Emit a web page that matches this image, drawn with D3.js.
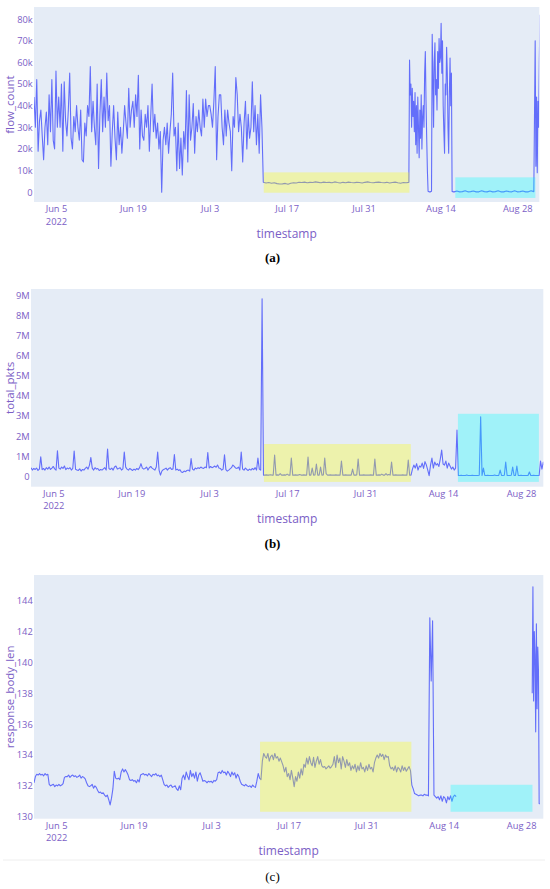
<!DOCTYPE html>
<html><head><meta charset="utf-8">
<script src="https://cdn.jsdelivr.net/npm/d3@7"></script>
<style>body{margin:0;background:#fff}svg{display:block}</style>
</head><body>
<script>
// ---------------- DATA ----------------
const xDomain = ["2022-06-01T00:00:00Z", "2022-09-01T00:00:00Z"];
const xTickDates = ["2022-06-05", "2022-06-19", "2022-07-03", "2022-07-17", "2022-07-31", "2022-08-14", "2022-08-28"];
const xTickLabels = ["Jun 5", "Jun 19", "Jul 3", "Jul 17", "Jul 31", "Aug 14", "Aug 28"];

// (a) flow_count, thousands
const flowTicks = [0, 10, 20, 30, 40, 50, 60, 70, 80];
const flowTickLabels = ["0", "10k", "20k", "30k", "40k", "50k", "60k", "70k", "80k"];
const flowJunJul = [ // from Jun 1 00:00, every 6 h
44,30,52,19, 33,38,26,15, 30,37,22,45, 28,52,24,20, 56,30,44,30, 50,19,51,33, 26,38,55,25, 20,35,28,40,
30,24,38,15, 14,32,26,40, 35,58,28,42, 30,22,50,11, 36,52,28,44, 30,55,33,40, 12,28,40,25, 15,37,22,30,
18,28,40,32, 25,48,30,38, 42,30,45,35, 54,20,38,26, 24,36,30,40, 19,35,50,28, 36,25,32,20, 28,0,24,30,
22,32,18,28, 36,55,26,30, 10,32,11,25, 8,28,20,47, 14,45,24,30, 41,18,35,28, 38,30,26,43, 30,43,35,40,
40,36,30,42, 58,15,35,45, 45,30,22,38, 26,38,32,28, 10,35,30,53, 45,28,36,30, 14,32,42,20, 36,25,30,51,
28,40,22,36, 18,45,30];
const flowFlat = [ // from Jul 12 18:00, every 12 h
4.6,4.3,4.5,4.2,4.4,4.0,3.8,3.9,4.1,3.7,4.2,4.4,4.3,4.6,4.5,4.7,4.4,4.6,4.5,4.8,4.6,4.4,4.7,4.5,4.6,4.4,4.8,
4.5,4.3,4.6,4.4,4.7,4.5,4.4,4.6,4.5,4.3,4.6,4.8,4.5,4.4,4.6,4.7,4.5,4.4,4.6,4.3,4.5,4.7,4.4,4.2,4.5,4.4,4.6];
const flowBurst = [ // from Aug 8 09:00, every 3 h
61,45,50,30,48,35,42,28,46,22,40,18,44,30,16,38,25,45,20,35,40,30,55,65,42,25,10,
0.5,0.3,0.2,0.2,0.3,0.5,
73,55,30,60,69,45,52,38,65,48,71,60,62,78,55,70,40,28,18,50,45,67,55,30,18,45,62,40,55,0.4,0.3,0.2];
const flowZero = [ // from Aug 16 12:00, every 12 h
0.2,0.6,0.2,0.3,0.7,0.2,0.3,0.6,0.2,0.2,0.7,0.3,0.2,0.6,0.2,0.3,0.7,0.2,0.2,0.6,0.3,0.2,0.7,0.2,0.3,0.6,0.2,0.2,0.7,0.3];
const flowEnd = [70,12,44,9,42,30,60,82]; // from Aug 31 06:00, every 3 h

// (b) total_pkts, millions
const pktsTicks = [0, 1, 2, 3, 4, 5, 6, 7, 8, 9];
const pktsTickLabels = ["0", "1M", "2M", "3M", "4M", "5M", "6M", "7M", "8M", "9M"];
const pktsJunJul = [ // from Jun 1 00:00, every 6 h
0.42,0.30,0.38,0.33, 0.40,0.28,0.35,0.96, 0.32,0.38,0.30,0.42, 0.35,0.45,0.33,0.40, 0.48,0.36,0.30,1.26,
0.40,0.35,0.45,0.38, 0.50,0.32,0.40,0.36, 0.42,0.30,0.38,1.25, 0.34,0.30,0.28,0.36, 0.25,0.33,0.30,0.38,
0.45,0.35,0.55,0.93, 0.40,0.30,0.42,0.35, 0.38,0.28,0.33,0.30, 0.36,0.42,0.30,1.35, 0.38,0.33,0.40,0.30,
0.45,0.50,0.35,0.38, 0.42,0.30,0.36,1.20, 0.45,0.35,0.30,0.38, 0.33,0.28,0.35,0.30, 0.38,0.32,0.42,0.62,
0.40,0.35,0.38,0.45, 0.30,0.42,0.48,0.40, 0.35,0.30,0.45,1.20, 0.30,0.05,0.25,0.32, 0.35,0.40,0.30,0.38,
0.42,0.33,0.36,1.08, 0.30,0.35,0.28,0.32, 0.20,0.18,0.25,0.22, 0.28,0.30,0.25,0.87, 0.35,0.30,0.40,0.36,
0.42,0.38,0.45,0.40, 0.38,0.45,0.42,1.18, 0.40,0.48,0.42,0.45, 0.50,0.44,0.55,0.40, 0.38,0.30,0.35,1.06,
0.32,0.25,0.30,0.36, 0.42,0.55,0.48,0.40, 0.38,0.45,0.30,1.20, 0.35,0.30,0.40,0.33, 0.28,0.35,0.30,0.38,
0.32,0.42,0.30,0.90, 0.35,0.30,8.85];
const pktsFlat = [ // from Jul 12 18:00, every 6 h
0.05,0.05,0.06,0.05,0.05,0.07,0.05,0.05, 1.05,
0.05,0.06,0.05,0.12,0.05,0.05,0.06,0.05,0.10,0.05,0.05, 0.90,
0.05,0.05,0.06,0.05,0.05,0.08,0.05,0.05,0.06,0.05,0.05, 0.95,
0.05,0.05,0.40,0.05,0.06,0.60,0.05,0.05,0.45,0.05,0.06, 0.90,
0.12,0.05,0.05,0.06,0.05,0.05,0.05,0.06,0.05,0.05,0.05, 0.75,
0.05,0.05,0.06,0.05,0.05,0.05,0.05,0.35,0.05,0.05,0.06, 0.85,
0.05,0.05,0.05,0.06,0.05,0.05,0.05,0.05,0.06,0.05,0.05, 0.85,
0.05,0.05,0.06,0.05,0.10,0.05,0.05,0.12,0.05,0.08,0.05, 0.70,
0.05,0.05,0.06,0.05,0.05,0.05,0.05,0.06,0.05,0.05,0.05, 0.80,
0.05,0.05];
const pktsMid = [ // from Aug 8 12:00, every 6 h
0.35,0.55,0.40,0.62,0.30,0.50,0.45,0.65,0.38,0.72,0.55,0.30,0.02,0.55,0.90,0.40,0.70,0.55,0.62,0.48,
0.85,1.30,0.60,0.55,0.75,0.40,0.65,0.50,0.35,0.45,0.30,0.40,2.30];
const pktsLow = [ // from Aug 16 18:00, every 6 h
0.03,0.03,0.04,0.03,0.03,0.03,0.05,0.03,0.03,0.03,0.04,0.03,0.03,0.03,0.03,0.04,2.96,0.03,0.40,0.03,
0.03,0.04,0.03,0.03,0.03,0.03,0.05,0.03,0.03,0.03,0.30,0.03,0.03,0.04,0.70,0.03,0.03,0.03,0.04,0.45,
0.03,0.03,0.50,0.03,0.03,0.04,0.03,0.03,0.03,0.03,0.03,0.20,0.03,0.03,0.04,0.03,0.03,0.03,0.03];
const pktsEnd = [0.75,0.35,0.70,0.50]; // from Aug 31 12:00, every 6 h

// (c) response_body_len
const respTicks = [130, 132, 134, 136, 138, 140, 142, 144];
const respJun = [ // from Jun 1 00:00, every 6 h
132.2,132.6,132.75,132.7, 132.8,132.7,132.75,132.65, 132.8,132.7,132.75,132.1, 132.0,132.05,132.1,131.95,
132.05,132.0,132.1,132.0, 132.05,132.15,132.55,132.6, 132.6,132.7,132.55,132.65, 132.7,132.6,132.65,132.55,
132.6,132.7,132.5,132.6, 132.55,132.45,132.2,132.0, 131.95,132.0,132.1,131.85, 132.0,131.9,131.7,131.55,
131.6,131.5,131.55,131.4, 131.3,131.4,131.1,130.76, 131.2,131.8,132.95,132.5, 132.45,132.5,132.4,132.9,
133.1,132.9,133.05,132.9, 132.7,132.4,132.35,132.4, 132.3,132.35,132.2,132.4, 132.25,132.7,132.75,132.8,
132.7,132.75,132.65,132.8, 132.7,132.6,132.75,132.7, 132.8,132.65,132.7,132.6, 132.7,132.4,132.1,132.0,
132.05,131.9,132.0,132.05, 131.9,131.95,132.0,131.8, 131.7,132.0,131.75,132.5, 132.7,132.4,132.9,132.6,
132.4,133.0,132.6,132.8, 132.5,132.9,132.3,132.7, 132.85,132.6,132.3,132.35, 132.3,132.2,132.3,132.25,
132.3,132.2,132.35,132.3, 132.4,132.85,132.9,132.8, 133.0,132.85,132.9,132.7, 132.95,132.8,132.6,132.9,
132.7,132.85,132.5,132.75, 132.6,132.3,132.1,132.05, 132.0,132.1,132.0,131.95, 132.0,131.9,132.05,131.95,
131.9,132.3,132.8,132.5];
const respJulAug = [ // from Jul 12 00:00, every 6 h
132.4,133.6,134.1,133.9, 133.8,134.1,133.6,133.9, 134.0,133.7,134.1,133.8, 133.9,133.6,133.8,133.55,
133.3,132.9,133.2,132.6, 132.8,132.4,133.0,132.5, 131.95,132.6,132.3,132.9, 132.5,133.1,132.7,133.4,
133.2,133.8,133.4,133.9, 133.5,133.3,133.85,133.2, 133.6,133.9,133.4,133.7, 133.3,133.2,133.25,133.1,
133.2,133.3,133.15,133.25, 133.4,133.9,133.2,134.0, 133.5,133.8,133.1,133.9, 133.6,133.2,133.7,133.3,
133.5,133.0,133.3,133.1, 133.4,132.9,133.3,133.0, 133.5,133.1,133.2,132.9, 133.3,133.0,133.4,133.1,
133.2,132.9,133.5,133.8, 134.0,133.8,134.1,133.9, 134.05,133.7,134.0,133.85, 133.9,133.3,133.1,133.2,
133.0,133.3,132.9,133.2, 133.1,132.9,133.3,133.0, 133.2,132.95,133.1,133.25, 133.0,132.05,131.8,131.5,
131.45,131.4,131.35,131.4, 131.4,131.35,131.45,131.4, 131.4,131.35,142.9,138.8, 142.7,131.4,131.3,131.2,
131.3,131.1,131.35,131.0, 131.3,131.2,130.9,131.3, 131.1,131.35,131.0,131.3, 131.4,131.3];
const respEnd = [138.0,144.9,137.5,142.0,140.5,135.5,142.5,137.0,141.0,139.5,130.85,130.85]; // from Aug 30 00:00, every 3 h, after a gap

// highlighted windows: [start, end, yLow, yHigh]
const flowYellow = ["2022-07-12T20:00:00Z", "2022-08-08T08:30:00Z", -0.2, 9.2];
const flowCyan   = ["2022-08-16T17:00:00Z", "2022-08-31T07:00:00Z", -2.6, 6.9];
const pktsYellow = ["2022-07-12T20:00:00Z", "2022-08-08T05:00:00Z", -0.29, 1.6];
const pktsCyan   = ["2022-08-16T16:00:00Z", "2022-08-31T05:00:00Z", -0.29, 3.11];
const respYellow = ["2022-07-11T20:00:00Z", "2022-08-08T04:00:00Z", 130.32, 134.86];
const respCyan   = ["2022-08-15T06:00:00Z", "2022-08-30T01:00:00Z", 130.32, 132.07];

// ---------------- BUILD ----------------
function build(segs) {
  const pts = [];
  segs.forEach(s => {
    if (s.gap) pts.push({ t: new Date(s.start), v: null });
    const t0 = +new Date(s.start);
    s.values.forEach((v, i) => pts.push({ t: new Date(t0 + i * s.stepH * 3600e3), v }));
  });
  return pts;
}
const flowSeries = build([
  { start: "2022-06-01T00:00:00Z", stepH: 6, values: flowJunJul },
  { start: "2022-07-12T18:00:00Z", stepH: 12, values: flowFlat },
  { start: "2022-08-08T09:00:00Z", stepH: 3, values: flowBurst },
  { start: "2022-08-16T12:00:00Z", stepH: 12, values: flowZero },
  { start: "2022-08-31T06:00:00Z", stepH: 3, values: flowEnd }
]);
const pktsSeries = build([
  { start: "2022-06-01T00:00:00Z", stepH: 6, values: pktsJunJul },
  { start: "2022-07-12T18:00:00Z", stepH: 6, values: pktsFlat },
  { start: "2022-08-08T12:00:00Z", stepH: 6, values: pktsMid },
  { start: "2022-08-16T18:00:00Z", stepH: 6, values: pktsLow },
  { start: "2022-08-31T12:00:00Z", stepH: 6, values: pktsEnd }
]);
const respSeries = build([
  { start: "2022-06-01T00:00:00Z", stepH: 6, values: respJun },
  { start: "2022-07-12T00:00:00Z", stepH: 6, values: respJulAug },
  { start: "2022-08-30T00:00:00Z", stepH: 3, values: respEnd, gap: true }
]);

// ---------------- DRAW ----------------
const W = 550, H = 889;
const TXT = "#7b5ec6", LINE = "#636efa", BG = "#e5ecf6";
const FONT = "'Open Sans', 'Noto Sans', sans-serif";
const TICK_FS = "9.3px";
const svg = d3.select("body").append("svg").attr("width", W).attr("height", H);

const panels = [
  { id: "a", box: [34, 7, 539.3, 202], yDom: [-4.48, 85.55], ticks: flowTicks, labels: flowTickLabels,
    ytitle: "flow_count", data: flowSeries, yellow: flowYellow, cyan: flowCyan, cap: "(a)", capY: 262, bold: true },
  { id: "b", box: [31, 289, 543.3, 486.7], yDom: [-0.53, 9.34], ticks: pktsTicks, labels: pktsTickLabels,
    ytitle: "total_pkts", data: pktsSeries, yellow: pktsYellow, cyan: pktsCyan, cap: "(b)", capY: 548, bold: true },
  { id: "c", box: [34, 575, 543.3, 818.7], yDom: [129.87, 145.67], ticks: respTicks, labels: respTicks.map(String),
    ytitle: "response_body_len", data: respSeries, yellow: respYellow, cyan: respCyan, cap: "(c)", capY: 880.5, bold: false }
];

panels.forEach(p => {
  const [x0, y0, x1, y1] = p.box;
  const x = d3.scaleUtc().domain(xDomain.map(d => new Date(d))).range([x0, x1]);
  const y = d3.scaleLinear().domain(p.yDom).range([y1, y0]);
  const g = svg.append("g");
  g.append("rect").attr("x", x0).attr("y", y0).attr("width", x1 - x0).attr("height", y1 - y0).attr("fill", BG);

  const clipId = "clip-" + p.id;
  svg.append("clipPath").attr("id", clipId).append("rect")
    .attr("x", x0).attr("y", y0).attr("width", x1 - x0).attr("height", y1 - y0);

  const line = d3.line().defined(d => d.v !== null).x(d => x(d.t)).y(d => y(d.v));
  g.append("path").datum(p.data).attr("clip-path", `url(#${clipId})`)
    .attr("d", line).attr("fill", "none").attr("stroke", LINE).attr("stroke-width", 1.1)
    .attr("stroke-linejoin", "round");

  [[p.yellow, "#ffff00"], [p.cyan, "#00ffff"]].forEach(([r, c]) => {
    g.append("rect")
      .attr("x", x(new Date(r[0]))).attr("width", x(new Date(r[1])) - x(new Date(r[0])))
      .attr("y", y(r[3])).attr("height", y(r[2]) - y(r[3]))
      .attr("fill", c).attr("fill-opacity", 0.3);
  });

  // y axis
  const ya = g.append("g").attr("transform", `translate(${x0 - 1.3},0)`)
    .call(d3.axisLeft(y).tickValues(p.ticks).tickFormat((d, i) => p.labels[i]).tickSize(0).tickPadding(0));
  ya.select(".domain").remove();
  ya.selectAll("text").attr("fill", TXT).style("font-family", FONT).style("font-size", TICK_FS);

  // x axis
  const xa = g.append("g").attr("transform", `translate(0,${y1})`)
    .call(d3.axisBottom(x).tickValues(xTickDates.map(d => new Date(d + "T00:00:00Z"))).tickFormat(() => "").tickSize(0));
  xa.select(".domain").remove();
  xa.selectAll(".tick").each(function (d, i) {
    const t = d3.select(this);
    t.select("text").remove();
    t.append("text").attr("y", 10).attr("text-anchor", "middle").attr("fill", TXT)
      .style("font-family", FONT).style("font-size", TICK_FS).text(xTickLabels[i]);
    if (i === 0) t.append("text").attr("y", 22.8).attr("text-anchor", "middle").attr("fill", TXT)
      .style("font-family", FONT).style("font-size", TICK_FS).text("2022");
  });

  // titles
  g.append("text").attr("x", (x0 + x1) / 2).attr("y", y1 + 36).attr("text-anchor", "middle")
    .attr("fill", TXT).style("font-family", FONT).style("font-size", "12px").text("timestamp");
  g.append("text").attr("transform", `translate(13.5,${(y0 + y1) / 2}) rotate(-90)`).attr("text-anchor", "middle")
    .attr("fill", TXT).style("font-family", FONT).style("font-size", "11.5px").text(p.ytitle);

  svg.append("text").attr("x", 272.5).attr("y", p.capY).attr("text-anchor", "middle")
    .attr("fill", "#000").style("font-family", "'Liberation Serif', 'DejaVu Serif', serif")
    .style("font-size", "13px").style("font-weight", p.bold ? "bold" : "normal").text(p.cap);
});

// thin separator line near the bottom
svg.append("line").attr("x1", 3).attr("x2", 545).attr("y1", 860).attr("y2", 860)
  .attr("stroke", "#eeeeee").attr("stroke-width", 1);
</script>
</body></html>
